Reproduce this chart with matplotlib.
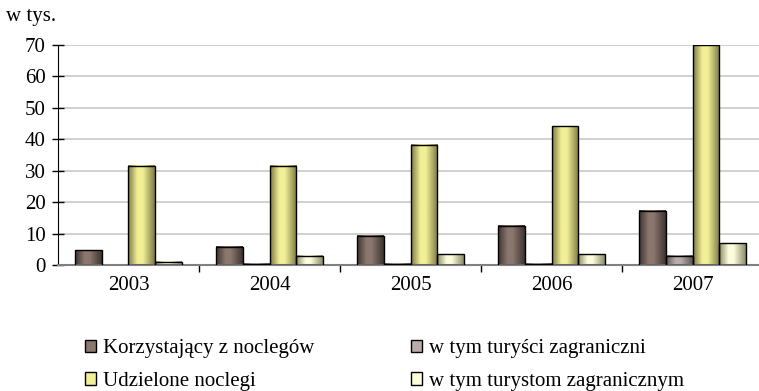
import numpy as np
import matplotlib.pyplot as plt
from matplotlib.colors import LinearSegmentedColormap
from matplotlib.patches import Patch

plt.rcParams['font.family'] = ['Liberation Serif', 'DejaVu Serif']

# lata i serie (w tys.)
lata = ['2003', '2004', '2005', '2006', '2007']
korzystajacy = [4.7, 5.8, 9.3, 12.5, 17.2]
turysci_zagr = [0.0, 0.4, 0.4, 0.4, 2.9]
noclegi = [31.5, 31.5, 38.3, 44.1, 70.0]
noclegi_zagr = [1.0, 2.9, 3.4, 3.4, 6.9]

serie = [korzystajacy, turysci_zagr, noclegi, noclegi_zagr]
etykiety = ['Korzystający z noclegów', 'w tym turyści zagraniczni',
            'Udzielone noclegi', 'w tym turystom zagranicznym']
# kolor jasny (środek słupka) i ciemny (krawędzie)
kolory = [('#8a776e', '#3e3431'),
          ('#b8adac', '#5e5554'),
          ('#f2f096', '#7d7a45'),
          ('#fcfcdc', '#8c8c66')]

fig = plt.figure(figsize=(7.59, 3.91), dpi=100)
ax = fig.add_axes([0.0764, 0.322, 0.929, 0.563])

x = np.arange(len(lata))
w = 0.19
for i, (dane, (jasny, ciemny)) in enumerate(zip(serie, kolory)):
    pos = x + (i - 1.5) * w
    cmap = LinearSegmentedColormap.from_list(
        'g%d' % i, [(0, ciemny), (0.35, jasny), (0.55, jasny), (1, ciemny)])
    grad = np.linspace(0, 1, 64).reshape(1, -1)
    for p, h in zip(pos, dane):
        if h <= 0:
            continue
        ax.imshow(grad, cmap=cmap, aspect='auto', interpolation='bilinear',
                  extent=(p - w / 2, p + w / 2, 0, h), zorder=2)
    lw = [1.0 if h > 0 else 0 for h in dane]
    ax.bar(pos, dane, width=w, facecolor='none', edgecolor='black',
           linewidth=lw, zorder=3)

ax.set_xlim(-0.5, 4.5)
ax.set_ylim(0, 70)
ax.set_yticks(range(0, 71, 10))
ax.set_xticks(x)
ax.set_xticklabels(lata)
ax.set_xticks(np.arange(0.5, 4.5, 1), minor=True)
ax.tick_params(axis='x', which='major', length=0, labelsize=15, pad=8)
ax.tick_params(axis='x', which='minor', length=5, width=1, direction='out')
ax.tick_params(axis='y', labelsize=15, direction='inout', length=8, width=1, pad=5)

ax.grid(axis='y', color='#c8c8c8', linewidth=1.2, zorder=0)
ax.set_axisbelow(True)
for s in ['top', 'right']:
    ax.spines[s].set_visible(False)
ax.spines['left'].set_color('black')
ax.spines['bottom'].set_color('#808080')
ax.spines['bottom'].set_linewidth(1.5)

fig.text(0.008, 0.958, 'w tys.', fontsize=15, va='center', ha='left')

uchwyty = [Patch(facecolor=j, edgecolor='black', linewidth=1) for j, c in kolory]
# kolejność kolumnami: lewa kolumna, potem prawa
kolejnosc = [0, 2, 1, 3]
fig.legend([uchwyty[k] for k in kolejnosc], [etykiety[k] for k in kolejnosc],
           ncol=2, loc='upper left', bbox_to_anchor=(0.112, 0.132),
           frameon=False, fontsize=15, handlelength=0.55, handleheight=0.55,
           handletextpad=0.33, columnspacing=4.6, labelspacing=0.65,
           borderaxespad=0, borderpad=0)

fig.savefig('out.png', dpi=100)
